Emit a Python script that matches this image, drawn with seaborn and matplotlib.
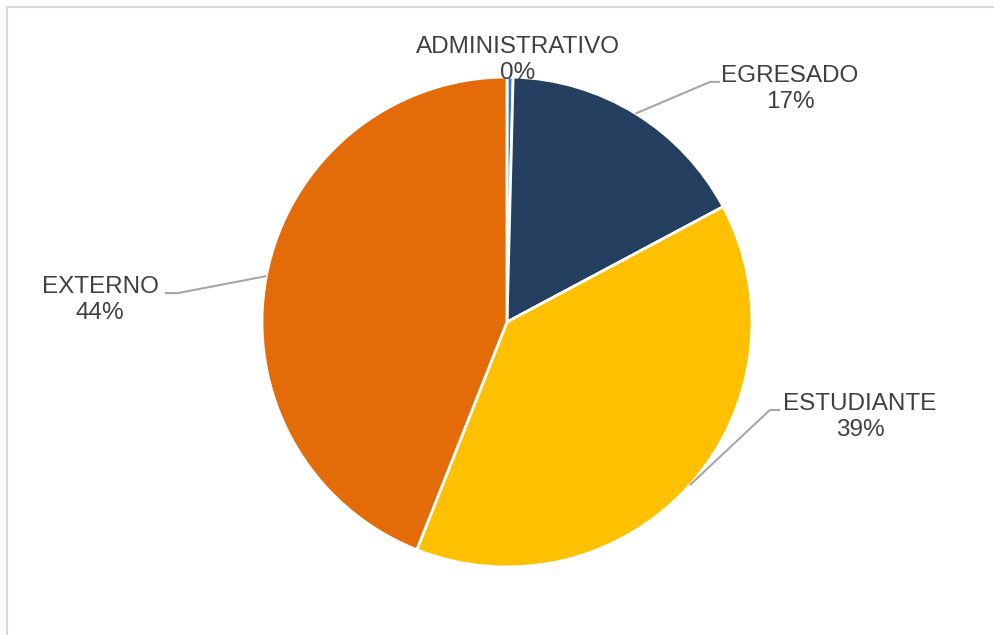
import numpy as np
import matplotlib.pyplot as plt
import matplotlib.patches as mpatches
import seaborn as sns

sns.set_theme(style="white")
plt.rcParams['font.family'] = ['Liberation Sans', 'DejaVu Sans']

# data
categories = ['ADMINISTRATIVO', 'EGRESADO', 'ESTUDIANTE', 'EXTERNO']
counts = [1, 42, 97, 110]
pct_labels = ['0%', '17%', '39%', '44%']
colors = ['#3A78C0', '#243F60', '#FFC000', '#E36C09']

# label positions (data coords, pie radius = 1)
label_xy = [(0.045, 1.069), (1.155, 0.951), (1.441, -0.388), (-1.661, 0.090)]
elbows = [None, [(0.829, 0.98), (0.869, 0.98)],
          [(1.073, -0.359), (1.114, -0.359)],
          [(-1.343, 0.118), (-1.396, 0.118)]]

fig = plt.figure(figsize=(9.95, 6.35), dpi=100)
ax = fig.add_axes([0, 0, 1, 1])

wedges, _ = ax.pie(counts, colors=colors, startangle=90, counterclock=False,
                   radius=1, wedgeprops=dict(edgecolor='white', linewidth=2))

for w, name, pct, (tx, ty), elb in zip(wedges, categories, pct_labels, label_xy, elbows):
    ax.text(tx, ty, f'{name}\n{pct}', ha='center', va='center', fontsize=17.5,
            color='#404040', linespacing=1.2)
    if elb is not None:
        mid = np.deg2rad((w.theta1 + w.theta2) / 2)
        pts = [(np.cos(mid), np.sin(mid))] + elb
        xs, ys = zip(*pts)
        ax.plot(xs, ys, color='#A6A6A6', lw=1.5, solid_capstyle='butt')

ax.set_xlim(-507 / 245, (995 - 507) / 245)
ax.set_ylim(-(635 - 322) / 245, 322 / 245)
ax.set_aspect('equal')
ax.axis('off')

# chart border
fig.patches.append(mpatches.Rectangle((7 / 995, -0.1), 1.1, 1 - 7 / 635 + 0.1,
                                      transform=fig.transFigure, fill=False,
                                      edgecolor='#D9D9D9', linewidth=1.5))

fig.savefig('out.png', dpi=100)
